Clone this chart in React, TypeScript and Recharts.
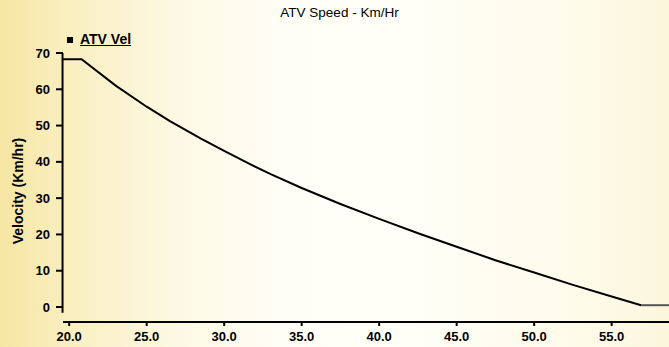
import { LineChart, Line, XAxis, YAxis, ReferenceLine } from 'recharts';

const distance = [19.6, 20.8, 23.0, 25.0, 26.5, 28.5, 30.0, 31.7, 33.0, 35.0, 37.5, 40.0, 42.6, 45.0, 47.5, 50.0, 52.5, 55.0, 56.9];
const velocity = [68.3, 68.3, 61.0, 55.2, 51.2, 46.4, 43.0, 39.3, 36.6, 32.8, 28.4, 24.3, 20.2, 16.6, 12.9, 9.5, 6.1, 2.9, 0.5];
const tailDistance = [56.9, 58.7];
const tailVelocity = [0.5, 0.5];
const xTicks = [20, 25, 30, 35, 40, 45, 50, 55];
const yTicks = [0, 10, 20, 30, 40, 50, 60, 70];

const mainData = distance.map((x, i) => ({ x, v: velocity[i] }));
const tailData = tailDistance.map((x, i) => ({ x, v: tailVelocity[i] }));

const font = 'Arial, "Liberation Sans", sans-serif';

export default function App() {
  return (
    <div
      style={{
        position: 'fixed',
        left: 0,
        top: 0,
        width: 669,
        height: 347,
        overflow: 'hidden',
        fontFamily: font,
        background:
          'linear-gradient(90deg, #f6e6a4 0%, #faf0c4 12%, #fdf9e6 28%, #fffef6 42%, #fffff8 60%, #fefbeb 85%, #fcf6dc 100%)',
      }}
    >
      <div
        style={{
          position: 'absolute',
          left: 0,
          width: 679,
          top: 5,
          textAlign: 'center',
          fontSize: 13.5,
          color: '#000',
        }}
      >
        ATV Speed - Km/Hr
      </div>
      <div style={{ position: 'absolute', left: 67, top: 37, width: 6, height: 6, background: '#000' }} />
      <div
        style={{
          position: 'absolute',
          left: 80,
          top: 31,
          fontSize: 14,
          fontWeight: 'bold',
          textDecoration: 'underline',
          color: '#000',
        }}
      >
        ATV Vel
      </div>
      <LineChart width={669} height={347} margin={{ top: 53, right: 0, bottom: 0, left: 0 }}>
        <XAxis
          type="number"
          dataKey="x"
          domain={[19.6, 58.7]}
          ticks={xTicks}
          allowDataOverflow
          tickFormatter={(v: number) => v.toFixed(1)}
          tickSize={4}
          tickMargin={6}
          height={25}
          axisLine={{ stroke: '#000', strokeWidth: 2 }}
          tickLine={{ stroke: '#000', strokeWidth: 2 }}
          tick={{ fill: '#000', fontSize: 13, fontWeight: 'bold', fontFamily: font }}
        />
        <YAxis
          type="number"
          dataKey="v"
          domain={[-4.13, 70]}
          ticks={yTicks}
          allowDataOverflow
          width={63}
          tickSize={7}
          tickMargin={6}
          axisLine={false}
          tickLine={{ stroke: '#000', strokeWidth: 2 }}
          tick={{ fill: '#000', fontSize: 13, fontWeight: 'bold', fontFamily: font }}
          label={{
            content: () => (
              <text
                x={18}
                y={191}
                transform="rotate(-90 18 191)"
                textAnchor="middle"
                dominantBaseline="central"
                fill="#000"
                fontSize={14}
                fontWeight="bold"
                fontFamily={font}
              >
                Velocity (Km/hr)
              </text>
            ),
          }}
        />
        <ReferenceLine
          segment={[{ x: 19.57, y: -1.6 }, { x: 19.57, y: 70 }]}
          stroke="#000"
          strokeWidth={2}
          ifOverflow="visible"
        />
        <Line
          data={mainData}
          dataKey="v"
          type="linear"
          stroke="#000"
          strokeWidth={2}
          dot={false}
          isAnimationActive={false}
        />
        <Line
          data={tailData}
          dataKey="v"
          type="linear"
          stroke="#555"
          strokeWidth={2}
          dot={false}
          isAnimationActive={false}
        />
      </LineChart>
    </div>
  );
}
